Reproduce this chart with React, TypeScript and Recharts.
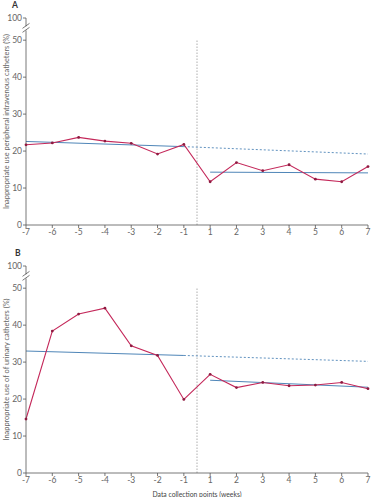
import { LineChart, Line, XAxis, YAxis, ReferenceLine, ReferenceDot } from "recharts";

// data collection points, weeks before (-) and after (+) the intervention
const weeks = [-7, -6, -5, -4, -3, -2, -1, 1, 2, 3, 4, 5, 6, 7];

// A: inappropriate use of peripheral intravenous catheters (%)
const pivcUse = [21.7, 22.2, 23.7, 22.7, 22.1, 19.2, 21.8, 11.7, 16.9, 14.7, 16.3, 12.4, 11.7, 15.8];
// B: inappropriate use of urinary catheters (%)
const urinaryUse = [14.6, 38.4, 43.0, 44.6, 34.4, 31.8, 19.9, 26.7, 23.1, 24.5, 23.6, 23.8, 24.5, 22.8];

// segmented regression fits: [week, value]
const pivcPre: [number, number][] = [[-7, 22.6], [-1, 21.2]];
const pivcProjected: [number, number][] = [[-1, 21.2], [7, 19.2]];
const pivcPost: [number, number][] = [[1, 14.3], [7, 14.1]];

const urinaryPre: [number, number][] = [[-7, 33.0], [-1, 31.8]];
const urinaryProjected: [number, number][] = [[-1, 31.8], [7, 30.2]];
const urinaryPost: [number, number][] = [[1, 25.1], [7, 23.2]];

const yTicks = [0, 10, 20, 30, 40, 50, 56];
const BREAK_TOP = 56; // axis break, drawn as 100

const RED = "#c4285a";
const DOT = "#8e1a40";
const BLUE = "#4f86b8";
const AXIS = "#555";
const TEXT = "#666";
const FONT = "Lato, 'Open Sans', sans-serif";

const pos = (w: number) => weeks.indexOf(w);
const xTicks = weeks.map((_, i) => i);

const toRows = (vals: number[]) => vals.map((v, i) => ({ x: i, v }));
const toFit = (pts: [number, number][]) => pts.map(([w, v]) => ({ x: pos(w), v }));

const BreakMark = (p: any) => {
  const cx = p.cx;
  const cy = p.cy;
  return (
    <g>
      <rect x={cx - 2} y={cy - 2} width={4} height={4} fill="#fff" />
      <line x1={cx - 3.5} y1={cy} x2={cx + 3.5} y2={cy - 5} stroke={AXIS} strokeWidth={0.8} />
      <line x1={cx - 3.5} y1={cy + 4} x2={cx + 3.5} y2={cy - 1} stroke={AXIS} strokeWidth={0.8} />
    </g>
  );
};

interface PanelProps {
  values: number[];
  pre: [number, number][];
  projected: [number, number][];
  post: [number, number][];
  yLabel: string;
  xLabel?: string;
  height: number;
}

function Panel({ values, pre, projected, post, yLabel, xLabel, height }: PanelProps) {
  return (
    <LineChart width={371} height={height} margin={{ top: 18, right: 3, bottom: 0, left: 0 }}>
      <XAxis
        type="number"
        dataKey="x"
        domain={[0, 13]}
        ticks={xTicks}
        tickFormatter={(i) => String(weeks[i])}
        interval={0}
        tick={{ fill: TEXT, fontSize: 8.5, fontFamily: FONT }}
        tickSize={3}
        tickMargin={1}
        stroke={AXIS}
        strokeWidth={0.8}
        height={xLabel ? 24 : 20}
        label={
          xLabel
            ? { value: xLabel, position: "insideBottom", offset: 0, style: { fill: "#444", fontSize: 6.8, fontFamily: FONT } }
            : undefined
        }
      />
      <YAxis
        type="number"
        domain={[0, BREAK_TOP]}
        ticks={yTicks}
        tickFormatter={(v) => (v === BREAK_TOP ? "100" : String(v))}
        interval={0}
        width={26}
        tick={{ fill: TEXT, fontSize: 8.5, fontFamily: FONT }}
        tickSize={3}
        tickMargin={1}
        stroke={AXIS}
        strokeWidth={0.8}
        label={{
          value: yLabel,
          angle: -90,
          position: "insideLeft",
          offset: 6,
          style: { textAnchor: "middle", fill: TEXT, fontSize: 7.4, fontFamily: FONT },
        }}
      />
      <ReferenceDot x={0} y={53.2} r={0} shape={BreakMark} ifOverflow="visible" />
      <ReferenceLine
        segment={[{ x: 6.5, y: 0 }, { x: 6.5, y: 50 }]}
        stroke="#999"
        strokeWidth={0.8}
        strokeDasharray="1.5 1.5"
      />
      <Line data={toFit(pre)} dataKey="v" stroke={BLUE} strokeWidth={1} dot={false} isAnimationActive={false} />
      <Line
        data={toFit(projected)}
        dataKey="v"
        stroke={BLUE}
        strokeWidth={0.9}
        strokeDasharray="2 2"
        dot={false}
        isAnimationActive={false}
      />
      <Line data={toFit(post)} dataKey="v" stroke={BLUE} strokeWidth={1} dot={false} isAnimationActive={false} />
      <Line
        data={toRows(values)}
        dataKey="v"
        stroke={RED}
        strokeWidth={1.1}
        dot={{ r: 1.4, fill: DOT, stroke: DOT, strokeWidth: 0 }}
        isAnimationActive={false}
      />
    </LineChart>
  );
}

export default function App() {
  return (
    <div style={{ position: "absolute", left: 0, top: 0, width: 371, height: 500, background: "#fff", fontFamily: FONT }}>
      <div style={{ position: "absolute", left: 0, top: 0 }}>
        <Panel
          values={pivcUse}
          pre={pivcPre}
          projected={pivcProjected}
          post={pivcPost}
          yLabel="Inappropriate use  peripheral intravenous catheters (%)"
          height={245}
        />
      </div>
      <div style={{ position: "absolute", left: 0, top: 248 }}>
        <Panel
          values={urinaryUse}
          pre={urinaryPre}
          projected={urinaryProjected}
          post={urinaryPost}
          yLabel="Inappropriate use of of urinary catheters (%)"
          xLabel="Data collection points (weeks)"
          height={249}
        />
      </div>
      <div style={{ position: "absolute", left: 12, top: 0, fontSize: 8.5, lineHeight: "10px", fontWeight: 700, color: "#333" }}>A</div>
      <div style={{ position: "absolute", left: 15, top: 248, fontSize: 8.5, lineHeight: "10px", fontWeight: 700, color: "#333" }}>B</div>
    </div>
  );
}
